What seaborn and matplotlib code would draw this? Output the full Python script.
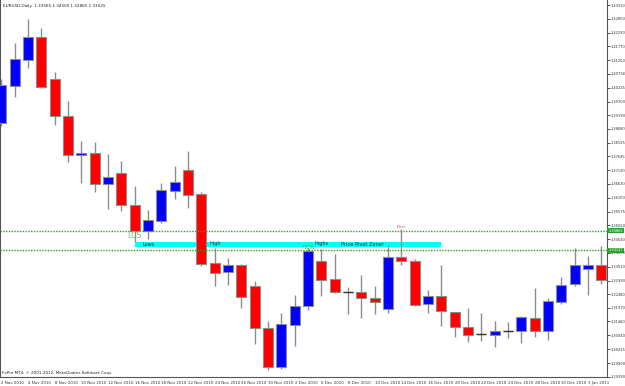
import matplotlib
matplotlib.use("Agg")
import matplotlib.pyplot as plt
import seaborn as sns
import pandas as pd
import numpy as np

# ---- data (EURUSD daily) ----
dates = ["2 Nov 2010", "3 Nov 2010", "4 Nov 2010", "5 Nov 2010", "8 Nov 2010", "9 Nov 2010",
         "10 Nov 2010", "11 Nov 2010", "12 Nov 2010", "15 Nov 2010", "16 Nov 2010", "17 Nov 2010",
         "18 Nov 2010", "19 Nov 2010", "22 Nov 2010", "23 Nov 2010", "24 Nov 2010", "25 Nov 2010",
         "26 Nov 2010", "29 Nov 2010", "30 Nov 2010", "1 Dec 2010", "2 Dec 2010", "3 Dec 2010",
         "6 Dec 2010", "7 Dec 2010", "8 Dec 2010", "9 Dec 2010", "10 Dec 2010", "13 Dec 2010",
         "14 Dec 2010", "15 Dec 2010", "16 Dec 2010", "17 Dec 2010", "20 Dec 2010", "21 Dec 2010",
         "22 Dec 2010", "23 Dec 2010", "24 Dec 2010", "27 Dec 2010", "28 Dec 2010", "29 Dec 2010",
         "30 Dec 2010", "31 Dec 2010", "3 Jan 2011", "4 Jan 2011"]
opens = [1.38910, 1.40285, 1.41260, 1.42133, 1.40548, 1.39161, 1.37688, 1.37785, 1.36624, 1.37025,
         1.35825, 1.34862, 1.35237, 1.36361, 1.37148, 1.36237, 1.33640, 1.33303, 1.33565, 1.32789,
         1.31204, 1.29765, 1.31328, 1.32040, 1.33715, 1.33040, 1.32565, 1.32565, 1.32340, 1.31916,
         1.33876, 1.33726, 1.32103, 1.32415, 1.31804, 1.31264, 1.30979, 1.30964, 1.31092, 1.31092,
         1.31579, 1.31092, 1.32201, 1.32853, 1.33415, 1.33565]
highs = [1.40548, 1.41886, 1.42797, 1.42470, 1.40821, 1.39723, 1.38224, 1.38186, 1.37725, 1.37474,
         1.36526, 1.35638, 1.36650, 1.37287, 1.37849, 1.36301, 1.34202, 1.33839, 1.33614, 1.32977,
         1.31478, 1.31789, 1.32452, 1.34214, 1.34187, 1.33977, 1.32763, 1.33190, 1.32789, 1.34315,
         1.34914, 1.33790, 1.32628, 1.33565, 1.31815, 1.31976, 1.31789, 1.31478, 1.31451, 1.31665,
         1.32703, 1.32328, 1.33127, 1.34214, 1.33925, 1.34300]
lows = [1.38786, 1.39873, 1.40971, 1.40199, 1.38824, 1.37448, 1.36661, 1.36324, 1.35687, 1.35589,
        1.34438, 1.34551, 1.35162, 1.36039, 1.35713, 1.33550, 1.32789, 1.32827, 1.31954, 1.30604,
        1.29641, 1.29667, 1.30552, 1.31890, 1.32415, 1.32538, 1.31751, 1.31601, 1.31740, 1.31766,
        1.33577, 1.32051, 1.31777, 1.31290, 1.30889, 1.30679, 1.30739, 1.30503, 1.30829, 1.30664,
        1.30889, 1.30777, 1.32126, 1.32801, 1.32452, 1.32865]
closes = [1.40312, 1.41309, 1.42133, 1.40259, 1.39150, 1.37688, 1.37785, 1.36624, 1.36875, 1.35825,
          1.34862, 1.35274, 1.36387, 1.36687, 1.36211, 1.33614, 1.33288, 1.33565, 1.32366, 1.31204,
          1.29765, 1.31354, 1.32051, 1.34112, 1.33014, 1.32553, 1.32560, 1.32340, 1.32178, 1.33876,
          1.33726, 1.32088, 1.32415, 1.31841, 1.31264, 1.30964, 1.30975, 1.31092, 1.31095, 1.31616,
          1.31114, 1.32216, 1.32838, 1.33577, 1.33565, 1.33025]

ytick_values = [1.43310, 1.42800, 1.42290, 1.41770, 1.41250, 1.40738, 1.40225, 1.39700, 1.39190,
                1.38680, 1.38155, 1.37645, 1.37130, 1.36630, 1.36100, 1.35575, 1.35060, 1.34540,
                1.34030, 1.33520, 1.32990, 1.32480, 1.31970, 1.31460, 1.30940, 1.30415, 1.29900,
                1.29390]
upper_line = 1.34862
lower_line = 1.34127
zone_top = 1.34438
zone_bottom = 1.34240
zone_start = 10
zone_end = 33

title_text = "EURUSD,Daily  1.33565 1.34300 1.32865 1.33025"
copyright_text = "FxPro MT4, \u00a9 2001-2012, MetaQuotes Software Corp."

df = pd.DataFrame({"date": dates, "open": opens, "high": highs, "low": lows, "close": closes})
df["idx"] = np.arange(len(df))

sns.set_theme(style="white")
plt.rcParams["font.family"] = ["DejaVu Sans"]

W, H = 625, 386
fig = plt.figure(figsize=(W / 100, H / 100), dpi=100)
ax = fig.add_axes([0.0, 9 / H, 607 / W, 1 - 9 / H])

pix = 0.0003748
ax.set_ylim(1.43310 - 371.7 * pix, 1.43310 + 5.3 * pix)
ax.set_xlim(-1.3 / 13.333, (607 - 1.3) / 13.333)

sns.despine(ax=ax, top=True, right=False, left=False, bottom=False)

# pivot zone
ax.fill_between([zone_start, zone_end], zone_bottom, zone_top, color="#00ffff", lw=0, zorder=1)

# wicks
ax.vlines(df["idx"], df["low"], df["high"], color="#8c8c8c", lw=1.0, zorder=2)

bull = df[df["close"] > df["open"]]
bear = df[df["close"] < df["open"]]
flat = df[np.abs(df["close"] - df["open"]) < 0.00012]

ax.bar(bull["idx"], bull["close"] - bull["open"], bottom=bull["open"], width=0.75,
       color="#0000ff", edgecolor="#8c8c8c", lw=0.8, zorder=3)
ax.bar(bear["idx"], bear["close"] - bear["open"], bottom=bear["open"], width=0.75,
       color="#ff0000", edgecolor="#8c8c8c", lw=0.8, zorder=3)
ax.hlines(flat["open"], flat["idx"] - 0.37, flat["idx"] + 0.37, color="#333333", lw=1.0, zorder=4)

# horizontal lines
for yv in (upper_line, lower_line):
    ax.axhline(yv, color="#2ea02e", lw=1.0, ls=(0, (1, 1)), zorder=5)

# annotations
fs = 3.6
ax.text(10, 1.34700, "LCS", color="#6cbf6c", fontsize=5.5, ha="center", va="center", zorder=6)
ax.text(10.6, 1.34340, "Lows", color="#1a1a40", fontsize=fs, ha="left", va="center", zorder=6)
ax.text(15.6, 1.34400, "High", color="#1a1a40", fontsize=fs, ha="left", va="center", zorder=6)
ax.text(23, 1.34235, "HCR", color="#3cb03c", fontsize=4.5, ha="center", va="center", zorder=6)
ax.text(23.5, 1.34390, "Highs", color="#1a1a40", fontsize=fs, ha="left", va="center", zorder=6)
ax.text(25.5, 1.34345, "Price Pivot Zone!", color="#1a1a40", fontsize=fs, ha="left", va="center", zorder=6)
ax.text(30, 1.34990, "Bart", color="#ff5050", fontsize=3.2, ha="center", va="center", zorder=6)

ax.text(0.005, 0.99, title_text, transform=ax.transAxes, fontsize=3.0, color="#222222",
        ha="left", va="top")
ax.text(0.003, 0.006, copyright_text, transform=ax.transAxes, fontsize=3.0, color="#222222",
        ha="left", va="bottom")

# axes styling
ax.yaxis.tick_right()
ax.set_yticks(ytick_values)
ax.set_yticklabels([f"{v:.5f}" for v in ytick_values])
xt = df["idx"][::2]
ax.set_xticks(xt)
ax.set_xticklabels(df["date"][::2], ha="left")
ax.tick_params(axis="both", labelsize=2.9, length=2.5, width=0.6, colors="#333333", pad=1)
ax.tick_params(axis="y", labelsize=2.6, length=2, pad=0.6)
ax.tick_params(axis="x", length=2, pad=1)
for s in ("left", "right", "bottom"):
    ax.spines[s].set_color("#555555")
    ax.spines[s].set_linewidth(0.8)
ax.set_xlabel("")
ax.set_ylabel("")
ax.grid(False)

# line price labels on the axis
for yv in (upper_line, lower_line):
    ax.text(1.002, yv, f"{yv:.5f}", transform=ax.get_yaxis_transform(), fontsize=2.6,
            color="white", ha="left", va="center",
            bbox=dict(boxstyle="square,pad=0.2", fc="#2ea02e", ec="none"), clip_on=False, zorder=7)

fig.savefig("out.png", dpi=100)
